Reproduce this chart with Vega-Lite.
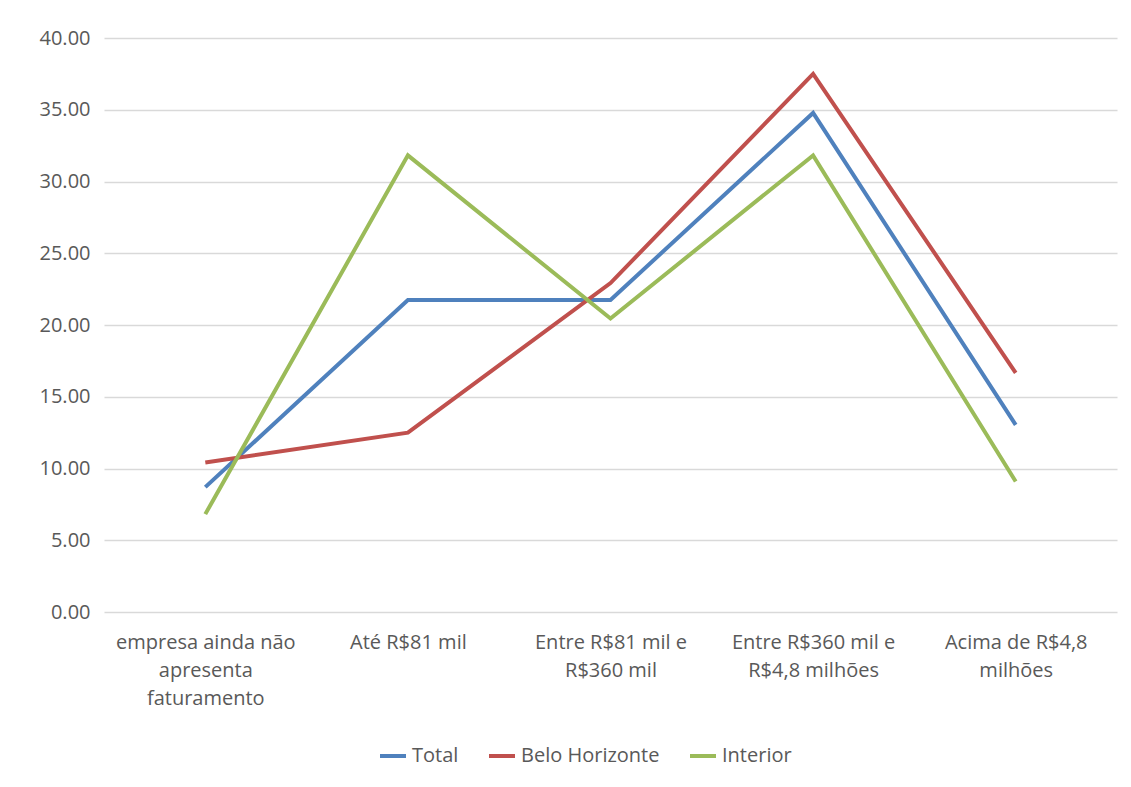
{
  "$schema": "https://vega.github.io/schema/vega-lite/v6.json",
  "width": 1013,
  "height": 574,
  "autosize": {"type": "none"},
  "padding": {"left": 104, "top": 38, "right": 14, "bottom": 175},
  "background": "#ffffff",
  "data": {
    "values": [
      {"faixa": "empresa ainda não apresenta faturamento", "ordem": 1, "serie": "Total", "valor": 8.70},
      {"faixa": "Até R$81 mil", "ordem": 2, "serie": "Total", "valor": 21.74},
      {"faixa": "Entre R$81 mil e R$360 mil", "ordem": 3, "serie": "Total", "valor": 21.74},
      {"faixa": "Entre R$360 mil e R$4,8 milhões", "ordem": 4, "serie": "Total", "valor": 34.78},
      {"faixa": "Acima de R$4,8 milhões", "ordem": 5, "serie": "Total", "valor": 13.04},
      {"faixa": "empresa ainda não apresenta faturamento", "ordem": 1, "serie": "Belo Horizonte", "valor": 10.42},
      {"faixa": "Até R$81 mil", "ordem": 2, "serie": "Belo Horizonte", "valor": 12.50},
      {"faixa": "Entre R$81 mil e R$360 mil", "ordem": 3, "serie": "Belo Horizonte", "valor": 22.92},
      {"faixa": "Entre R$360 mil e R$4,8 milhões", "ordem": 4, "serie": "Belo Horizonte", "valor": 37.50},
      {"faixa": "Acima de R$4,8 milhões", "ordem": 5, "serie": "Belo Horizonte", "valor": 16.67},
      {"faixa": "empresa ainda não apresenta faturamento", "ordem": 1, "serie": "Interior", "valor": 6.82},
      {"faixa": "Até R$81 mil", "ordem": 2, "serie": "Interior", "valor": 31.82},
      {"faixa": "Entre R$81 mil e R$360 mil", "ordem": 3, "serie": "Interior", "valor": 20.45},
      {"faixa": "Entre R$360 mil e R$4,8 milhões", "ordem": 4, "serie": "Interior", "valor": 31.82},
      {"faixa": "Acima de R$4,8 milhões", "ordem": 5, "serie": "Interior", "valor": 9.09}
    ]
  },
  "mark": {"type": "line", "strokeWidth": 4, "strokeCap": "butt", "strokeJoin": "miter"},
  "encoding": {
    "x": {
      "field": "faixa",
      "type": "nominal",
      "sort": {"field": "ordem"},
      "scale": {"type": "point", "padding": 0.5},
      "axis": {
        "title": null,
        "domain": false,
        "ticks": false,
        "labelAngle": 0,
        "labelAlign": "center",
        "labelBaseline": "top",
        "labelPadding": 20,
        "labelLineHeight": 28,
        "labelFont": "Open Sans",
        "labelFontSize": 20,
        "labelColor": "#595959",
        "labelExpr": "{'empresa ainda não apresenta faturamento': ['empresa ainda não', 'apresenta', 'faturamento'], 'Até R$81 mil': 'Até R$81 mil', 'Entre R$81 mil e R$360 mil': ['Entre R$81 mil e', 'R$360 mil'], 'Entre R$360 mil e R$4,8 milhões': ['Entre R$360 mil e', 'R$4,8 milhões'], 'Acima de R$4,8 milhões': ['Acima de R$4,8', 'milhões']}[datum.value]"
      }
    },
    "y": {
      "field": "valor",
      "type": "quantitative",
      "scale": {"domain": [0, 40], "nice": false},
      "axis": {
        "title": null,
        "values": [0, 5, 10, 15, 20, 25, 30, 35, 40],
        "format": ".2f",
        "domain": false,
        "ticks": false,
        "labelPadding": 14,
        "labelFont": "Open Sans",
        "labelFontSize": 20,
        "labelColor": "#595959",
        "gridColor": "#d9d9d9",
        "gridWidth": 1.5
      }
    },
    "color": {
      "field": "serie",
      "type": "nominal",
      "sort": ["Total", "Belo Horizonte", "Interior"],
      "scale": {"domain": ["Total", "Belo Horizonte", "Interior"], "range": ["#4f81bd", "#c0504d", "#9bbb59"]},
      "legend": {
        "title": null,
        "orient": "none",
        "legendX": 274,
        "legendY": 703,
        "direction": "horizontal",
        "symbolType": "stroke",
        "symbolSize": 676,
        "symbolStrokeWidth": 4,
        "labelFont": "Open Sans",
        "labelFontSize": 20,
        "labelColor": "#595959",
        "labelOffset": 4,
        "columnPadding": 22
      }
    }
  },
  "config": {"view": {"stroke": null}}
}
